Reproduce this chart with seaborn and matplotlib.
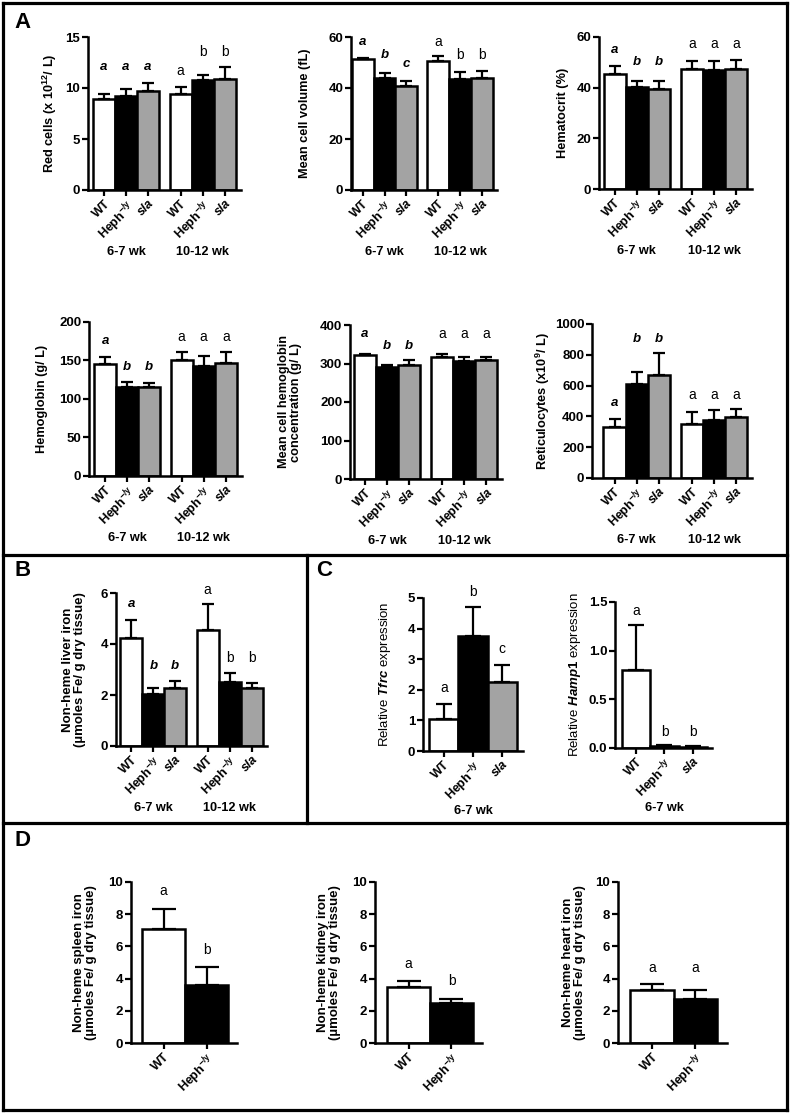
import matplotlib
matplotlib.use('Agg')
import matplotlib.pyplot as plt
import seaborn as sns
import pandas as pd
import numpy as np
from matplotlib.lines import Line2D

# === 1. Data ===
ages = ['6-7 wk', '10-12 wk']
genotypes = ['WT', 'Heph', 'sla']
heph_label = r'Heph$^{\mathbf{-/y}}$'
bar_colors = ['white', 'black', '#a3a3a3']

# panel A (order: 6-7 wk WT, Heph, sla, 10-12 wk WT, Heph, sla)
rbc_mean = [8.9, 9.2, 9.74, 9.41, 10.78, 10.88]
rbc_err = [0.49, 0.67, 0.72, 0.72, 0.52, 1.15]
rbc_letters = ['a', 'a', 'a', 'a', 'b', 'b']
rbc_letter_y = [12.1, 12.1, 12.1, 11.7, 13.5, 13.5]

mcv_mean = [51.3, 44.1, 40.7, 50.5, 43.7, 44.1]
mcv_err = [0.6, 1.9, 2.0, 1.9, 2.6, 2.5]
mcv_letters = ['a', 'b', 'c', 'a', 'b', 'b']
mcv_letter_y = [58, 52.8, 49.6, 58, 52.8, 52.8]

hct_mean = [45.5, 40.1, 39.5, 47.5, 47.1, 47.5]
hct_err = [2.9, 2.7, 3.0, 2.9, 3.3, 3.4]
hct_letters = ['a', 'b', 'b', 'a', 'a', 'a']
hct_letter_y = [54.7, 50.1, 50.1, 57.2, 57.2, 57.2]

hb_mean = [145.7, 116.1, 116.1, 150.9, 143.1, 147.4]
hb_err = [8.7, 6.1, 4.4, 9.5, 13.0, 13.0]
hb_letters = ['a', 'b', 'b', 'a', 'a', 'a']
hb_letter_y = [174.8, 142.2, 142.2, 180, 180, 180]

mchc_mean = [321.4, 290.3, 295.5, 317.8, 307.4, 310.0]
mchc_err = [4.2, 6.7, 13.5, 6.2, 8.6, 7.8]
mchc_letters = ['a', 'b', 'b', 'a', 'a', 'a']
mchc_letter_y = [376, 345, 345, 376, 376, 376]

retic_mean = [333, 609, 667, 348, 374, 398]
retic_err = [47, 80, 144, 80, 65, 52]
retic_letters = ['a', 'b', 'b', 'a', 'a', 'a']
retic_letter_y = [489, 902, 902, 537, 537, 537]

# panel B
liver_mean = [4.22, 2.04, 2.29, 4.56, 2.50, 2.28]
liver_err = [0.73, 0.24, 0.24, 1.01, 0.38, 0.21]
liver_letters = ['a', 'b', 'b', 'a', 'b', 'b']
liver_letter_y = [5.57, 3.12, 3.12, 6.13, 3.45, 3.45]

# panel C (6-7 wk only)
tfrc_mean = [1.06, 3.76, 2.24]
tfrc_err = [0.47, 0.93, 0.58]
tfrc_letters = ['a', 'b', 'c']
tfrc_letter_y = [2.05, 5.2, 3.33]

hamp_mean = [0.80, 0.017, 0.01]
hamp_err = [0.46, 0.01, 0.007]
hamp_letters = ['a', 'b', 'b']
hamp_letter_y = [1.41, 0.16, 0.16]

# panel D (WT vs Heph)
spleen_mean = [7.1, 3.6]
spleen_err = [1.25, 1.15]
spleen_letters = ['a', 'b']
spleen_letter_y = [9.43, 5.8]

kidney_mean = [3.46, 2.48]
kidney_err = [0.37, 0.27]
kidney_letters = ['a', 'b']
kidney_letter_y = [4.9, 3.83]

heart_mean = [3.31, 2.73]
heart_err = [0.35, 0.58]
heart_letters = ['a', 'a']
heart_letter_y = [4.66, 4.66]

# === 2. Style ===
sns.set_style('ticks')
plt.rcParams['font.family'] = ['Liberation Sans', 'DejaVu Sans']
plt.rcParams['font.weight'] = 'bold'
plt.rcParams['mathtext.fontset'] = 'custom'
plt.rcParams['mathtext.rm'] = 'Liberation Sans'
plt.rcParams['mathtext.it'] = 'Liberation Sans:italic'
plt.rcParams['mathtext.bf'] = 'Liberation Sans:bold'
for k in ['axes.edgecolor', 'xtick.color', 'ytick.color', 'text.color', 'axes.labelcolor']:
    plt.rcParams[k] = 'black'

W, H = 793, 1116
fig = plt.figure(figsize=(W / 100, H / 100), dpi=100)
TICK_FS = 9.5
XTICK_FS = 9
LABEL_FS = 9.2
LETTER_FS = 9.5
GROUP_FS = 9.2


def px_box(l, r, t, b):
    return [l / W, 1 - b / H, (r - l) / W, (b - t) / H]


def style_axes(ax, box, xlim, ymax, ystep, ylabel, label_x, label_weight='bold',
               label_fs=LABEL_FS):
    l, r, t, b = box
    ax.set_xlim(*xlim)
    ax.set_ylim(0, ymax)
    ax.set_yticks(np.arange(0, ymax + ystep / 2, ystep))
    sns.despine(ax=ax)
    for s in ['left', 'bottom']:
        ax.spines[s].set_linewidth(1.8)
    ax.tick_params(direction='out', length=4, width=1.6, labelsize=TICK_FS, pad=1.5)
    for lbl in ax.get_yticklabels():
        lbl.set_fontweight('bold')
    ax.set_xlabel('')
    ax.set_ylabel(ylabel, fontsize=label_fs, fontweight=label_weight, va='center',
                  linespacing=1.05)
    ax.yaxis.set_label_coords((label_x - l) / (r - l), 0.5)


def add_bars_extras(ax, means, errs, letters, letter_y, tick_labels, cap, styled_first):
    centers = sorted(p.get_x() + p.get_width() / 2 for p in ax.patches)
    ax.errorbar(centers, means, yerr=[np.zeros(len(means)), errs], fmt='none',
                ecolor='black', elinewidth=1.6, capsize=cap, capthick=1.6, zorder=3)
    for i, (x, txt, y) in enumerate(zip(centers, letters, letter_y)):
        if i < styled_first:
            ax.text(x, y, txt, ha='center', va='center', fontsize=LETTER_FS,
                    fontweight='bold', fontstyle='italic')
        else:
            ax.text(x, y, txt, ha='center', va='center', fontsize=LETTER_FS + 0.5,
                    fontweight='normal')
    ax.set_xticks(centers)
    ax.set_xticklabels(tick_labels, rotation=45, ha='right', rotation_mode='anchor',
                       fontsize=XTICK_FS, fontweight='bold')
    for lbl in ax.get_xticklabels():
        if lbl.get_text() == 'sla':
            lbl.set_fontstyle('italic')
    return centers


def grouped_panel(box, xlim, ymax, ystep, means, errs, letters, letter_y,
                  ylabel, label_x, label_fs=LABEL_FS, group_width=0.863):
    ax = fig.add_axes(px_box(*box))
    df = pd.DataFrame({'age': np.repeat(ages, 3), 'genotype': genotypes * 2,
                       'value': means})
    sns.barplot(data=df, x='age', y='value', hue='genotype', order=ages,
                hue_order=genotypes, palette=bar_colors, saturation=1,
                edgecolor='black', linewidth=1.8, width=group_width, gap=0,
                errorbar=None, legend=False, ax=ax)
    style_axes(ax, box, xlim, ymax, ystep, ylabel, label_x, label_fs=label_fs)
    centers = add_bars_extras(ax, means, errs, letters, letter_y,
                              ['WT', heph_label, 'sla'] * 2, 4, 3)
    for g, age in enumerate(ages):
        gc = np.mean(centers[3 * g:3 * g + 3])
        ax.annotate(age, xy=(gc, 0), xycoords=('data', 'axes fraction'),
                    xytext=(0, -44.5), textcoords='offset points',
                    ha='center', va='center', fontsize=GROUP_FS, fontweight='bold')
    return ax


def single_panel(box, xlim, ymax, ystep, means, errs, letters, letter_y,
                 ylabel, label_x, cap, label_weight='bold', group_label=None):
    ax = fig.add_axes(px_box(*box))
    names = genotypes[:len(means)]
    df = pd.DataFrame({'genotype': names, 'value': means})
    sns.barplot(data=df, x='genotype', y='value', hue='genotype', order=names,
                hue_order=names, palette=bar_colors[:len(means)], saturation=1,
                edgecolor='black', linewidth=1.8, width=1.0,
                errorbar=None, legend=False, ax=ax)
    style_axes(ax, box, xlim, ymax, ystep, ylabel, label_x, label_weight, label_fs=9.5)
    tick_labels = ['WT', heph_label, 'sla'][:len(means)]
    centers = add_bars_extras(ax, means, errs, letters, letter_y, tick_labels, cap, 0)
    if group_label:
        ax.annotate(group_label, xy=(np.mean(centers), 0),
                    xycoords=('data', 'axes fraction'), xytext=(0, -43),
                    textcoords='offset points', ha='center', va='center',
                    fontsize=GROUP_FS, fontweight='bold')
    return ax


# === 3. Panel A ===
grouped_panel((88, 241, 37, 190), (-0.497, 1.503), 15, 5, rbc_mean, rbc_err,
              rbc_letters, rbc_letter_y, r'Red cells (x 10$^{\mathbf{12}}$/ L)', 50)
grouped_panel((351, 497, 37, 190), (-0.444, 1.49), 60, 20, mcv_mean, mcv_err,
              mcv_letters, mcv_letter_y, 'Mean cell volume (fL)', 305)
grouped_panel((599, 752, 37, 189), (-0.49, 1.49), 60, 20, hct_mean, hct_err,
              hct_letters, hct_letter_y, 'Hematocrit (%)', 563)
grouped_panel((89, 242, 322, 476), (-0.50, 1.50), 200, 50, hb_mean, hb_err,
              hb_letters, hb_letter_y, 'Hemoglobin (g/ L)', 42)
grouped_panel((350, 502, 325, 479), (-0.48, 1.49), 400, 100, mchc_mean, mchc_err,
              mchc_letters, mchc_letter_y,
              'Mean cell hemoglobin\nconcentration (g/ L)', 290)
grouped_panel((592, 752, 324, 478), (-0.58, 1.49), 1000, 200, retic_mean, retic_err,
              retic_letters, retic_letter_y, r'Reticulocytes (x10$^{\mathbf{9}}$/ L)', 543)

# === 4. Panel B ===
grouped_panel((116, 267, 593, 746), (-0.49, 1.49), 6, 2, liver_mean, liver_err,
              liver_letters, liver_letter_y,
              'Non-heme liver iron\n(\u00b5moles Fe/ g dry tissue)', 74, label_fs=9.5)

# === 5. Panel C ===
single_panel((423, 523, 598, 751), (-0.71, 2.71), 5, 1, tfrc_mean, tfrc_err,
             tfrc_letters, tfrc_letter_y, r'Relative $\mathit{Tfrc}$ expression', 385,
             6, label_weight='normal', group_label='6-7 wk')
single_panel((615, 712, 602, 748), (-0.74, 2.67), 1.5, 0.5, hamp_mean, hamp_err,
             hamp_letters, hamp_letter_y, r'Relative $\mathit{Hamp1}$ expression', 575,
             6, label_weight='normal', group_label='6-7 wk')

# === 6. Panel D ===
iron_label = '\n(\u00b5moles Fe/ g dry tissue)'
single_panel((131, 237, 882, 1043), (-0.76, 1.71), 10, 2, spleen_mean, spleen_err,
             spleen_letters, spleen_letter_y, 'Non-heme spleen iron' + iron_label, 85, 8.5)
single_panel((375, 482, 882, 1043), (-0.78, 1.71), 10, 2, kidney_mean, kidney_err,
             kidney_letters, kidney_letter_y, 'Non-heme kidney iron' + iron_label, 329, 8.5)
single_panel((618, 727, 882, 1043), (-0.78, 1.73), 10, 2, heart_mean, heart_err,
             heart_letters, heart_letter_y, 'Non-heme heart iron' + iron_label, 574, 8.5)

# === 7. Panel frames and letters ===
def fig_line(x0, y0, x1, y1):
    fig.add_artist(Line2D([x0 / W, x1 / W], [1 - y0 / H, 1 - y1 / H],
                          color='black', lw=2.3, transform=fig.transFigure,
                          solid_capstyle='projecting'))


fig_line(3, 3, 787, 3)
fig_line(3, 1110, 787, 1110)
fig_line(3, 3, 3, 1110)
fig_line(787, 3, 787, 1110)
fig_line(3, 555, 787, 555)
fig_line(3, 823, 787, 823)
fig_line(307, 555, 307, 823)

for letter, (x, y) in zip(['A', 'B', 'C', 'D'], [(14, 23), (14, 571), (316, 571), (14, 840)]):
    fig.text(x / W, 1 - y / H, letter, fontsize=16, fontweight='bold',
             ha='left', va='center')

plt.savefig('out.png', dpi=100)
